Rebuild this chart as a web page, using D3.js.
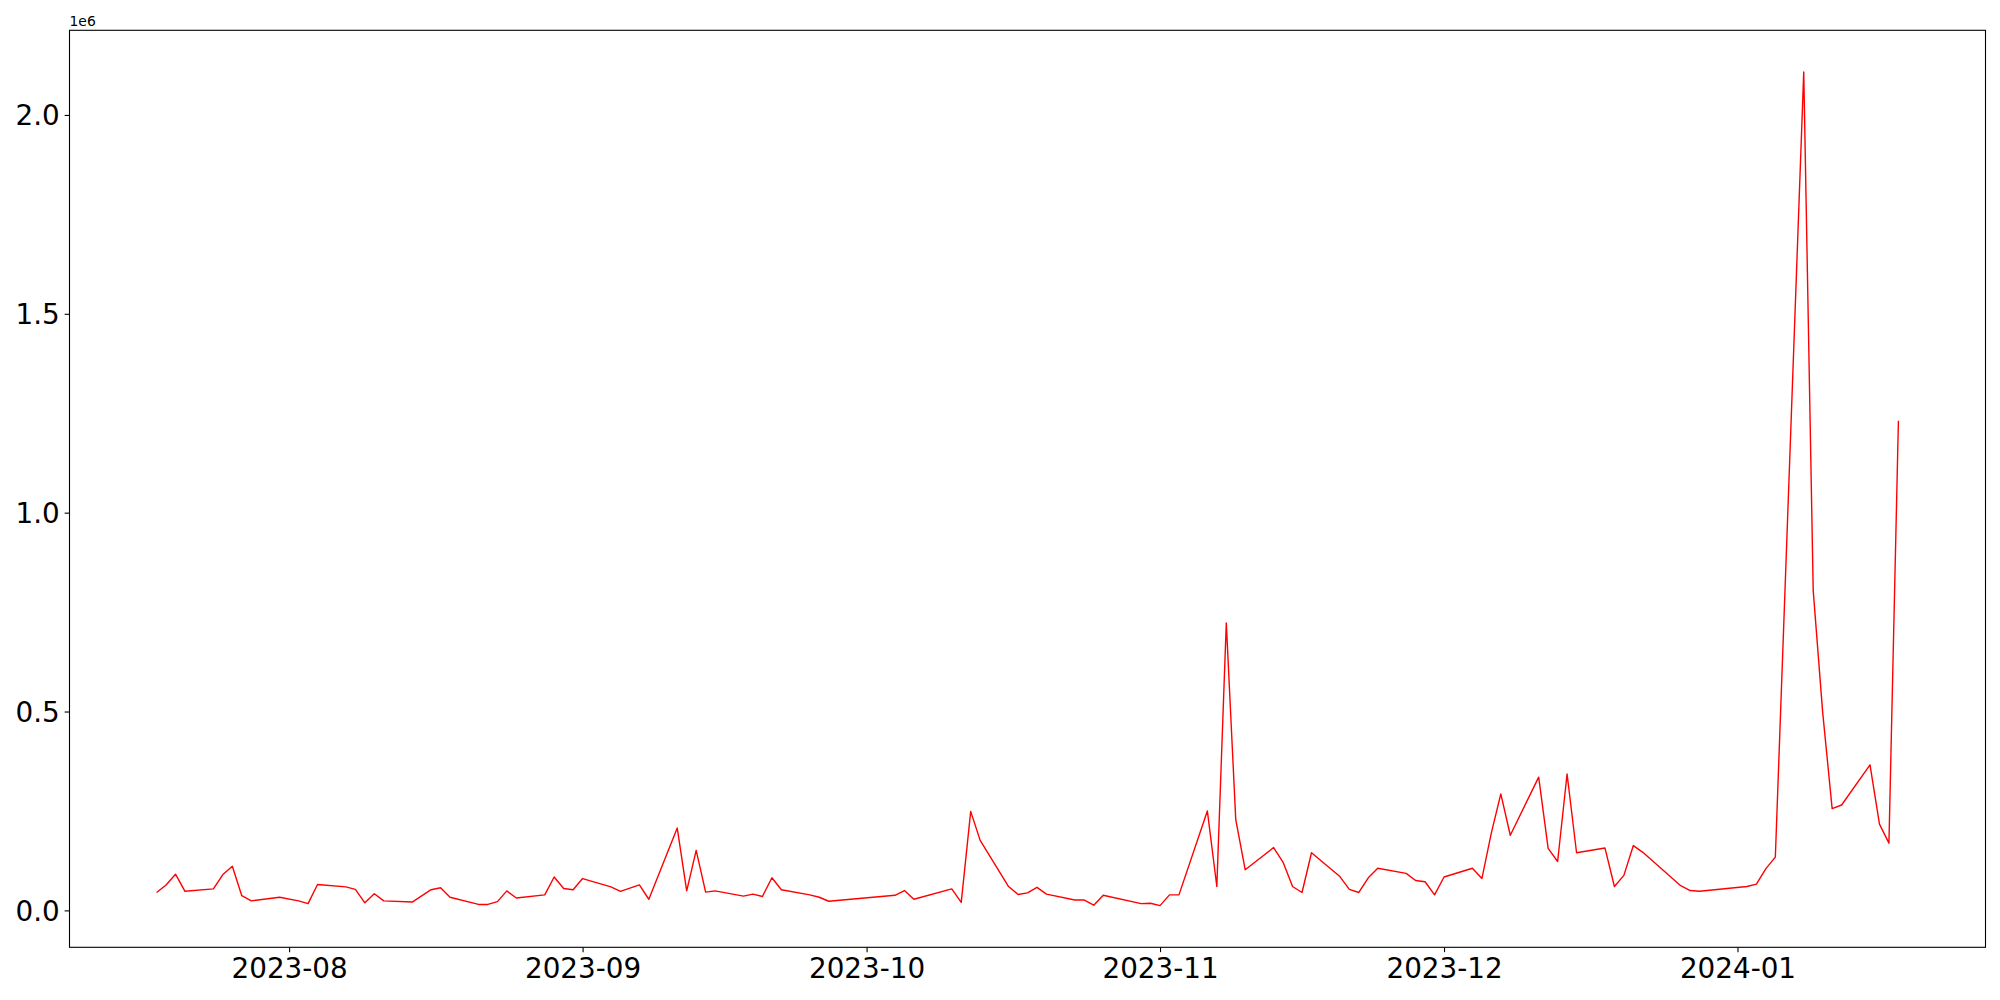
<!DOCTYPE html>
<html>
<head>
<meta charset="utf-8">
<script src="https://cdn.jsdelivr.net/npm/d3@7"></script>
<style>
html,body{margin:0;padding:0;background:#fff;}
svg{display:block;}
text{font-family:"DejaVu Sans",sans-serif;fill:#000;}
</style>
</head>
<body>
<svg id="chart" width="2000" height="1000"></svg>
<script>
const dates = ["2023-07-18","2023-07-19","2023-07-20","2023-07-21","2023-07-24","2023-07-25","2023-07-26","2023-07-27","2023-07-28","2023-07-31",
"2023-08-02","2023-08-03","2023-08-04","2023-08-07","2023-08-08","2023-08-09","2023-08-10","2023-08-11","2023-08-14","2023-08-16",
"2023-08-17","2023-08-18","2023-08-21","2023-08-22","2023-08-23","2023-08-24","2023-08-25","2023-08-28","2023-08-29","2023-08-30",
"2023-08-31","2023-09-01","2023-09-04","2023-09-05","2023-09-07","2023-09-08","2023-09-11","2023-09-12","2023-09-13","2023-09-14",
"2023-09-15","2023-09-18","2023-09-19","2023-09-20","2023-09-21","2023-09-22","2023-09-25","2023-09-26","2023-09-27","2023-10-04",
"2023-10-05","2023-10-06","2023-10-10","2023-10-11","2023-10-12","2023-10-13","2023-10-16","2023-10-17","2023-10-18","2023-10-19",
"2023-10-20","2023-10-23","2023-10-24","2023-10-25","2023-10-26","2023-10-30","2023-10-31","2023-11-01","2023-11-02","2023-11-03",
"2023-11-06","2023-11-07","2023-11-08","2023-11-09","2023-11-10","2023-11-13","2023-11-14","2023-11-15","2023-11-16","2023-11-17",
"2023-11-20","2023-11-21","2023-11-22","2023-11-23","2023-11-24","2023-11-27","2023-11-28","2023-11-29","2023-11-30","2023-12-01",
"2023-12-04","2023-12-05","2023-12-06","2023-12-07","2023-12-08","2023-12-11","2023-12-12","2023-12-13","2023-12-14","2023-12-15",
"2023-12-18","2023-12-19","2023-12-20","2023-12-21","2023-12-22","2023-12-26","2023-12-27","2023-12-28","2024-01-02","2024-01-03",
"2024-01-04","2024-01-05","2024-01-08","2024-01-09","2024-01-10","2024-01-11","2024-01-12","2024-01-15","2024-01-16","2024-01-17",
"2024-01-18"];
const values = [45000,64000,91000,48000,54000,90000,111000,37000,24000,33000,
24000,17000,65000,59000,53000,19000,42000,24000,21000,52000,
57000,33000,15000,15000,22000,49000,31000,39000,84000,55000,
52000,80000,59000,48000,64000,28000,207000,49000,151000,46000,
49000,36000,41000,35000,82000,52000,39000,33000,23000,38000,
50000,28000,54000,20000,249000,176000,60000,40000,44000,58000,
41000,26000,26000,13000,38000,17000,18000,12000,39000,39000,
250000,60000,723000,228000,102000,158000,121000,60000,45000,145000,
85000,53000,45000,82000,106000,93000,75000,72000,39000,84000,
106000,80000,195000,293000,189000,335000,156000,123000,343000,145000,
157000,60000,88000,163000,146000,62000,50000,48000,60000,66000,
105000,134000,2108000,804000,498000,256000,265000,366000,217000,169000,
1231000];
const yTickValues = [0, 500000, 1000000, 1500000, 2000000];
const yTickLabels = ["0.0","0.5","1.0","1.5","2.0"];
const offsetLabel = "1e6";

const parse = d3.utcParse("%Y-%m-%d");
const data = dates.map((d,i)=>({date: parse(d), value: values[i]}));

const mLeft = 69.5, mTop = 30.3, pw = 1916, ph = 917;
const svg = d3.select("#chart");
const g = svg.append("g").attr("transform", `translate(${mLeft},${mTop})`);

const xExt = d3.extent(data, d=>d.date);
const xPad = (xExt[1]-xExt[0])*0.05;
const x = d3.scaleUtc().domain([new Date(+xExt[0]-xPad), new Date(+xExt[1]+xPad)]).range([0,pw]);
const yExt = d3.extent(data, d=>d.value);
const yPad = (yExt[1]-yExt[0])*0.05;
const y = d3.scaleLinear().domain([yExt[0]-yPad, yExt[1]+yPad]).range([ph,0]);

const tickLen = 4.86, fontSize = 27.8;

// X axis
const xAxis = g.append("g").attr("transform", `translate(0,${ph})`)
  .call(d3.axisBottom(x).ticks(d3.utcMonth.every(1)).tickFormat(d3.utcFormat("%Y-%m")).tickSizeOuter(0).tickSize(tickLen).tickPadding(4.86));
xAxis.select(".domain").remove();
xAxis.selectAll(".tick line").attr("stroke","#000").attr("stroke-width",1.1);
xAxis.selectAll(".tick text").attr("font-size",fontSize).attr("font-family","DejaVu Sans").attr("fill","#000")
  .attr("y", tickLen+4.86).attr("dy","0.76em");

// Y axis
const yAxis = g.append("g")
  .call(d3.axisLeft(y).tickValues(yTickValues).tickFormat((d,i)=>yTickLabels[i]).tickSizeOuter(0).tickSize(tickLen).tickPadding(4.86));
yAxis.select(".domain").remove();
yAxis.selectAll(".tick line").attr("stroke","#000").attr("stroke-width",1.1);
yAxis.selectAll(".tick text").attr("font-size",fontSize).attr("font-family","DejaVu Sans").attr("fill","#000").attr("dy","0.36em");

// Line
const line = d3.line().x(d=>x(d.date)).y(d=>y(d.value));
g.append("path").datum(data).attr("d",line).attr("fill","none").attr("stroke","#ff0000")
  .attr("stroke-width",1.4).attr("stroke-linejoin","round");

// Frame
g.append("rect").attr("x",0).attr("y",0).attr("width",pw).attr("height",ph)
  .attr("fill","none").attr("stroke","#000").attr("stroke-width",1.1);

// Offset text
svg.append("text").attr("x",mLeft).attr("y",mTop-4.5).attr("font-size",13.9).text(offsetLabel);
</script>
</body>
</html>
